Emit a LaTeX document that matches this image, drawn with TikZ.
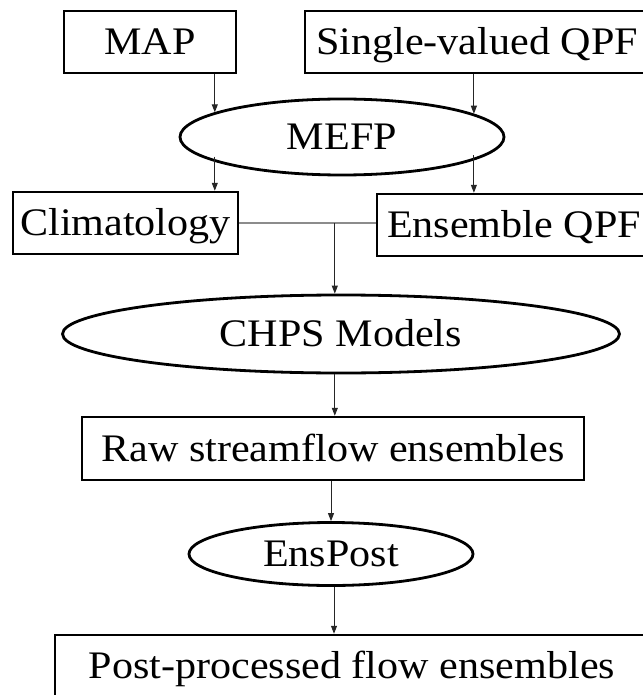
\documentclass[tikz,border=0pt]{standalone}
\usepackage{fontspec}
\setmainfont[FakeStretch=1.08]{Liberation Serif}
\usetikzlibrary{shapes.geometric,arrows.meta,calc}
\begin{document}
\begin{tikzpicture}[x=1pt,y=-1pt,
  lbl/.style={font=\fontsize{39}{44}\selectfont, text height=25.8pt, text depth=0pt, inner sep=0pt},
  boxnode/.style={lbl, draw=black, line width=2.5pt, rectangle},
  ovalnode/.style={lbl, draw=black, line width=2.8pt, ellipse},
  arr/.style={draw=black!85, line width=1pt, -{Triangle[length=8pt,width=6pt]}},
  joinline/.style={draw=black!45, line width=1.1pt}]
\useasboundingbox (0,0) rectangle (642,695);
\fill[white] (0,0) rectangle (642,695);

\node[boxnode, minimum width=172pt, minimum height=62pt] (map) at (150,42) {MAP};
\node[boxnode, minimum width=344pt, minimum height=62pt] (svqpf) at (477,42) {Single-valued QPF};
\node[ovalnode, minimum width=324pt, minimum height=76pt] (mefp) at (342,137) {MEFP};
\node[boxnode, minimum width=225pt, minimum height=62pt] (clim) at (125.5,223) {Climatology};
\node[boxnode, minimum width=274pt, minimum height=62pt] (ens) at (514,225) {Ensemble QPF};
\node[ovalnode, minimum width=557pt, minimum height=78pt] (chps) at (341,334) {CHPS Models};
\node[boxnode, minimum width=502pt, minimum height=63pt] (raw) at (333,448.5) {Raw streamflow ensembles};
\node[ovalnode, minimum width=284pt, minimum height=63pt] (enspost) at (331,554) {EnsPost};
\node[boxnode, minimum width=594pt, minimum height=62pt] (post) at (352,666) {Post-processed flow ensembles};

% inputs to MEFP
\draw[arr] (mefp.169 |- map.south) -- (mefp.169);
\draw[arr] (mefp.10 |- svqpf.south) -- (mefp.10);
% MEFP outputs
\draw[arr] ($(mefp.191)+(0,-5)$) -- (mefp.191 |- clim.north);
\draw[arr] ($(mefp.350)+(0,-5)$) -- (mefp.350 |- ens.north);
% join
\coordinate (j) at ($(clim.east)!0.7!(clim.east -| ens.west)$);
\draw[joinline] (clim.east) -- (clim.east -| ens.west);
\draw[arr] (j) -- (j |- chps.north);
\draw[arr] (j |- chps.south) -- (j |- raw.north);
\draw[arr] (enspost.north |- raw.south) -- (enspost.north);
\draw[arr] ($(enspost.south)+(3,0)$) -- ($(enspost.south |- post.north)+(3,0)$);
\end{tikzpicture}
\end{document}
